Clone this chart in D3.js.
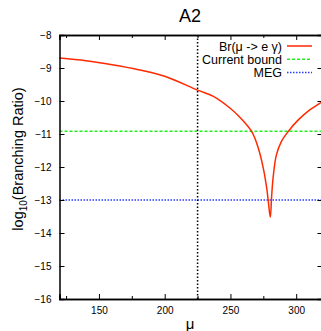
<!DOCTYPE html>
<html>
<head>
<meta charset="utf-8">
<script src="https://cdn.jsdelivr.net/npm/d3@7"></script>
<style>
  body { margin: 0; background: #fff; }
  svg { display: block; font-family: "Liberation Sans", Arial, sans-serif; }
</style>
</head>
<body>
<div id="chart"></div>
<script>
// values
const muValues = [120, 140, 160, 180, 200, 225, 237, 249.8, 257.3, 266.2, 271.2, 275, 277.6, 278.8, 280.3, 281.3, 282.4, 284.9, 288.7, 293.8, 301.4, 310.3, 317.9, 320];
const brValues = [-8.70, -8.78, -8.90, -9.05, -9.25, -9.67, -9.86, -10.22, -10.50, -10.93, -11.43, -12.04, -12.65, -13.05, -13.52, -12.90, -12.34, -11.64, -11.23, -10.93, -10.58, -10.27, -10.07, -10.01];
const currentBound = -10.92;
const megBound = -13;
const cutMu = 225;
const xTicks = [150, 200, 250, 300];
const xMinorTicks = [125, 175, 225, 275];
const yTicks = [-8, -9, -10, -11, -12, -13, -14, -15, -16];
const legendLabels = ['Br(\u03bc -> e \u03b3)', 'Current bound', 'MEG'];

const width = 321, height = 331;
const plotLeft = 59.5, plotRight = 322.5, plotTop = 35, plotBottom = 299;

const svg = d3.select('#chart')
  .append('svg')
  .attr('width', width)
  .attr('height', height);

const x = d3.scaleLinear().domain([120, 320]).range([plotLeft, plotRight]);
const y = d3.scaleLinear().domain([-16, -8]).range([plotBottom, plotTop]);

// horizontal bounds
svg.append('line')
  .attr('x1', plotLeft).attr('x2', plotRight)
  .attr('y1', y(currentBound)).attr('y2', y(currentBound))
  .attr('stroke', '#22ee22')
  .attr('stroke-width', 1.5)
  .attr('stroke-dasharray', '3,2');

svg.append('line')
  .attr('x1', plotLeft).attr('x2', plotRight)
  .attr('y1', y(megBound)).attr('y2', y(megBound))
  .attr('stroke', '#2a3cff')
  .attr('stroke-width', 1.5)
  .attr('stroke-dasharray', '1.5,1.5');

// vertical cut
svg.append('line')
  .attr('x1', x(cutMu)).attr('x2', x(cutMu))
  .attr('y1', plotTop).attr('y2', plotBottom)
  .attr('stroke', '#000')
  .attr('stroke-width', 1.5)
  .attr('stroke-dasharray', '1.5,2');

// branching ratio curve
const line = d3.line()
  .x((d) => x(d[0]))
  .y((d) => y(d[1]))
  .curve(d3.curveCatmullRom.alpha(0.5));

svg.append('path')
  .datum(muValues.map((m, i) => [m, brValues[i]]))
  .attr('fill', 'none')
  .attr('stroke', '#ff2a00')
  .attr('stroke-width', 1.5)
  .attr('d', line);

// axes
const axisG = svg.append('g').attr('font-size', 12.5);

axisG.append('g')
  .attr('transform', `translate(0,${plotBottom})`)
  .call(d3.axisBottom(x).tickValues(xTicks).tickSize(-5).tickPadding(8).tickFormat(d3.format('d')));
axisG.append('g')
  .attr('transform', `translate(0,${plotBottom})`)
  .call(d3.axisBottom(x).tickValues(xMinorTicks).tickSize(-3).tickFormat(''));
axisG.append('g')
  .attr('transform', `translate(0,${plotTop})`)
  .call(d3.axisTop(x).tickValues(xTicks).tickSize(-5).tickFormat(''));
axisG.append('g')
  .attr('transform', `translate(0,${plotTop})`)
  .call(d3.axisTop(x).tickValues(xMinorTicks).tickSize(-3).tickFormat(''));
axisG.append('g')
  .attr('transform', `translate(${plotLeft},0)`)
  .call(d3.axisLeft(y).tickValues(yTicks).tickSize(-5).tickPadding(8).tickFormat(d3.format('d')));
axisG.append('g')
  .attr('transform', `translate(${plotRight},0)`)
  .call(d3.axisRight(y).tickValues(yTicks).tickSize(-5).tickFormat(''));

axisG.selectAll('.domain').attr('stroke', '#000').attr('stroke-width', 1.5);
axisG.selectAll('.tick line').attr('stroke', '#000').attr('stroke-width', 1);
axisG.selectAll('text').attr('fill', '#000').style('font-family', '"Liberation Sans", Arial, sans-serif');

// legend
const legendColors = ['#ff2a00', '#22ee22', '#2a3cff'];
const legendDash = [null, '3,2', '1.5,1.5'];
const legend = svg.append('g');
legendLabels.forEach((label, i) => {
  const ly = 46 + i * 13.3;
  legend.append('text')
    .attr('x', 282).attr('y', ly + 4.5)
    .attr('text-anchor', 'end')
    .attr('font-size', 12.5)
    .text(label);
  legend.append('line')
    .attr('x1', 287).attr('x2', 312)
    .attr('y1', ly).attr('y2', ly)
    .attr('stroke', legendColors[i])
    .attr('stroke-width', 1.5)
    .attr('stroke-dasharray', legendDash[i]);
});

// title and labels
svg.append('text')
  .attr('x', 190).attr('y', 22)
  .attr('text-anchor', 'middle')
  .attr('font-size', 18)
  .text('A2');

svg.append('text')
  .attr('x', 190).attr('y', 329)
  .attr('text-anchor', 'middle')
  .attr('font-size', 15)
  .text('\u03bc');

const yLabel = svg.append('text')
  .attr('transform', 'translate(23,159) rotate(-90)')
  .attr('text-anchor', 'middle')
  .attr('font-size', 14.5);
yLabel.append('tspan').text('log');
yLabel.append('tspan').attr('font-size', 10).attr('dy', 4).text('10');
yLabel.append('tspan').attr('dy', -4).text('(Branching Ratio)');
</script>
</body>
</html>
